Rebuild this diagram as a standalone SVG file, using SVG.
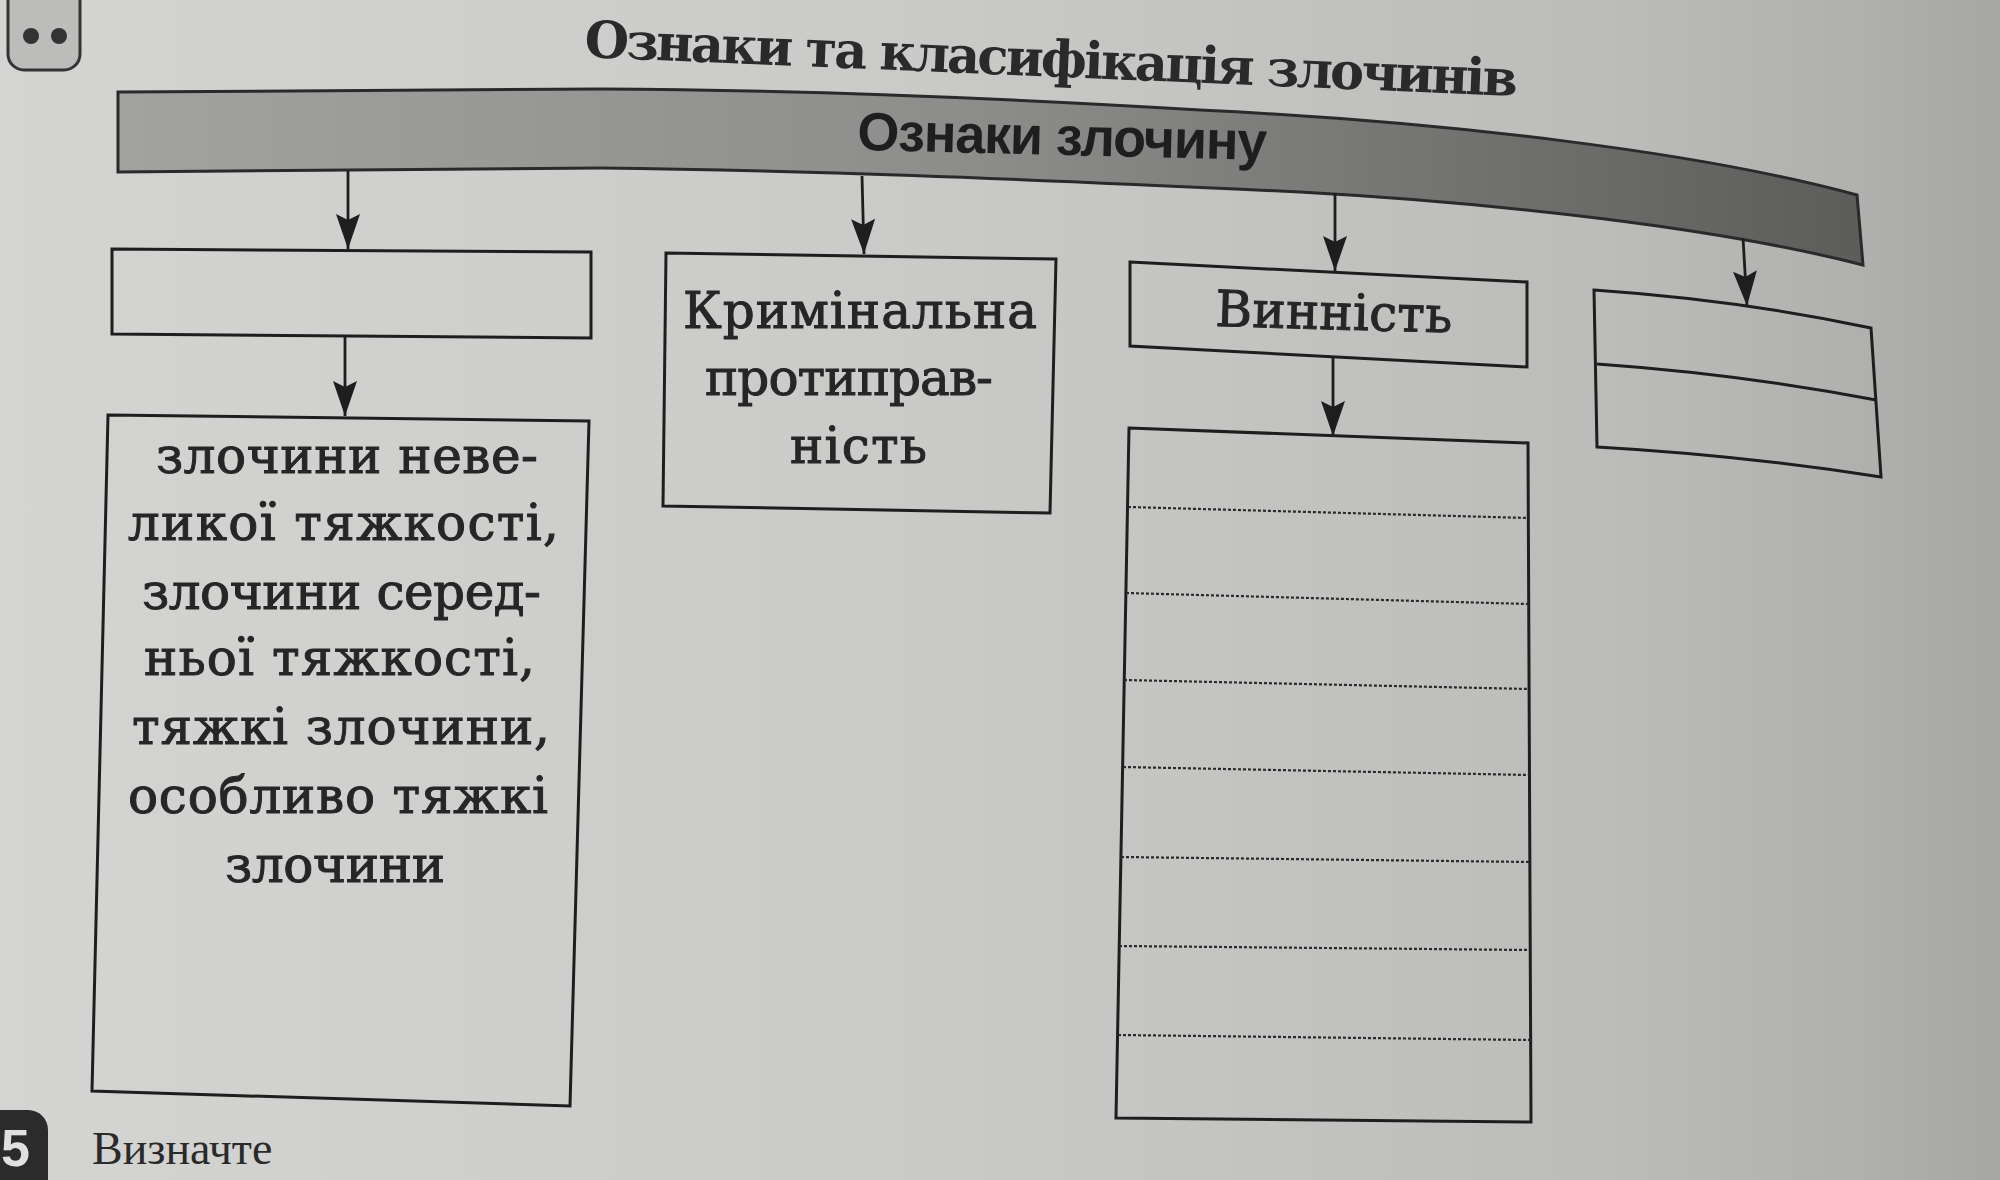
<svg xmlns="http://www.w3.org/2000/svg" width="2000" height="1180" viewBox="0 0 2000 1180">
<defs>
<linearGradient id="paper" x1="0" y1="0" x2="1" y2="0">
<stop offset="0" stop-color="#d4d4d2"/>
<stop offset="0.45" stop-color="#cacac8"/>
<stop offset="0.8" stop-color="#bcbcba"/>
<stop offset="0.93" stop-color="#b0b0ae"/>
<stop offset="1" stop-color="#a6a6a4"/>
</linearGradient>
<linearGradient id="band" x1="0" y1="0" x2="1" y2="0">
<stop offset="0" stop-color="#a2a2a0"/>
<stop offset="0.5" stop-color="#8c8c8a"/>
<stop offset="1" stop-color="#5c5c5b"/>
</linearGradient>
<marker id="ah" markerWidth="35" markerHeight="24" refX="35" refY="12" orient="auto" markerUnits="userSpaceOnUse" viewBox="0 0 35 24">
<path d="M0,0 L35,12 L0,24 L6,12 Z" fill="#1e1e1e"/>
</marker>
<style>
.box{fill:none;stroke:#1e1e1e;stroke-width:3;stroke-linejoin:miter}
.con{stroke:#1e1e1e;stroke-width:2.8;fill:none;marker-end:url(#ah)}
.dot{stroke:#2a2a2a;stroke-width:2.2;stroke-dasharray:3 2;fill:none}
.ser{font-family:"DejaVu Serif","Liberation Serif",serif;fill:#262626;stroke:#262626;stroke-width:1;font-size:50px}
.title{font-family:"DejaVu Serif","Liberation Serif",serif;font-weight:bold;fill:#2a2a2a;font-size:51px}
.band{font-family:"Liberation Sans",Arial,sans-serif;font-weight:bold;fill:#1e1e1e;font-size:54px}
</style>
</defs>
<rect x="0" y="0" width="2000" height="1180" fill="url(#paper)"/>

<g id="icon">
<rect x="8" y="-20" width="72" height="90" rx="16" fill="#bcbcba" stroke="#333" stroke-width="3"/>
<circle cx="31" cy="36" r="8" fill="#333"/>
<circle cx="59" cy="36" r="8" fill="#333"/>
</g>

<g id="title">
<text class="title" x="584" y="57" textLength="934" lengthAdjust="spacing" transform="rotate(2.4 584 57)">Ознаки та класифікація злочинів</text>
</g>

<g id="banner">
<path d="M118,92 L600,89 C800,90 1000,98 1200,110 C1450,122 1700,152 1857,195 L1863,265 C1720,228 1500,203 1300,192 C1000,178 800,170 600,168 L118,172 Z" fill="url(#band)" stroke="#2a2a2a" stroke-width="3"/>
<text class="band" x="857" y="150" textLength="410" lengthAdjust="spacing" transform="rotate(1.4 857 150)">Ознаки злочину</text>
</g>

<g id="connectors">
<line class="con" x1="348" y1="171" x2="348" y2="249"/>
<line class="con" x1="345" y1="337" x2="345" y2="416"/>
<line class="con" x1="862" y1="176" x2="864" y2="254"/>
<line class="con" x1="1335" y1="193" x2="1335" y2="271"/>
<line class="con" x1="1333" y1="356" x2="1333" y2="436"/>
<line class="con" x1="1743" y1="238" x2="1747" y2="306"/>
</g>

<g id="box-empty-1">
<polygon class="box" points="112,249 591,252 591,338 112,334"/>
</g>

<g id="box-kryminalna">
<polygon class="box" points="666,253 1056,259 1050,513 663,506"/>
<text class="ser" x="683" y="328" textLength="354" lengthAdjust="spacing">Кримінальна</text>
<text class="ser" x="705" y="395" textLength="288" lengthAdjust="spacing">протиправ-</text>
<text class="ser" x="790" y="463" textLength="137" lengthAdjust="spacing">ність</text>
</g>

<g id="box-vynnist">
<polygon class="box" points="1130,262 1527,282 1527,367 1130,346"/>
<text class="ser" x="1215" y="326" textLength="237" lengthAdjust="spacing" transform="rotate(1.6 1215 326)">Винність</text>
</g>

<g id="box-empty-2">
<path class="box" d="M1594,290 Q1740,300 1871,328 L1881,477 Q1740,455 1597,447 Z"/>
<path class="box" d="M1597,364 Q1740,374 1876,400" stroke-width="2.5"/>
</g>

<g id="box-classes">
<polygon class="box" points="108,415 589,421 570,1106 92,1091"/>
<text class="ser" x="156" y="473" textLength="382" lengthAdjust="spacing">злочини неве-</text>
<text class="ser" x="128" y="540" textLength="431" lengthAdjust="spacing">ликої тяжкості,</text>
<text class="ser" x="142" y="609" textLength="399" lengthAdjust="spacing">злочини серед-</text>
<text class="ser" x="144" y="675" textLength="391" lengthAdjust="spacing">ньої тяжкості,</text>
<text class="ser" x="132" y="744" textLength="418" lengthAdjust="spacing">тяжкі злочини,</text>
<text class="ser" x="128" y="813" textLength="420" lengthAdjust="spacing">особливо тяжкі</text>
<text class="ser" x="225" y="882" textLength="220" lengthAdjust="spacing">злочини</text>
</g>

<g id="box-lines">
<polygon class="box" points="1129,428 1528,443 1531,1122 1116,1118"/>
<line class="dot" x1="1128" y1="507" x2="1528" y2="518"/>
<line class="dot" x1="1126" y1="593" x2="1529" y2="604"/>
<line class="dot" x1="1124" y1="680" x2="1529" y2="689"/>
<line class="dot" x1="1123" y1="767" x2="1529" y2="775"/>
<line class="dot" x1="1121" y1="857" x2="1530" y2="862"/>
<line class="dot" x1="1119" y1="946" x2="1530" y2="950"/>
<line class="dot" x1="1118" y1="1035" x2="1531" y2="1040"/>
</g>

<g id="footer">
<rect x="-30" y="1110" width="78" height="100" rx="20" fill="#2b2b2b"/>
<text x="1" y="1166" font-family="Liberation Sans, Arial, sans-serif" font-weight="bold" font-size="52" fill="#e0e0e0">5</text>
<text x="92" y="1164" font-family="Liberation Serif, serif" font-size="46" fill="#2a2a2a">Визначте</text>
</g>
</svg>
